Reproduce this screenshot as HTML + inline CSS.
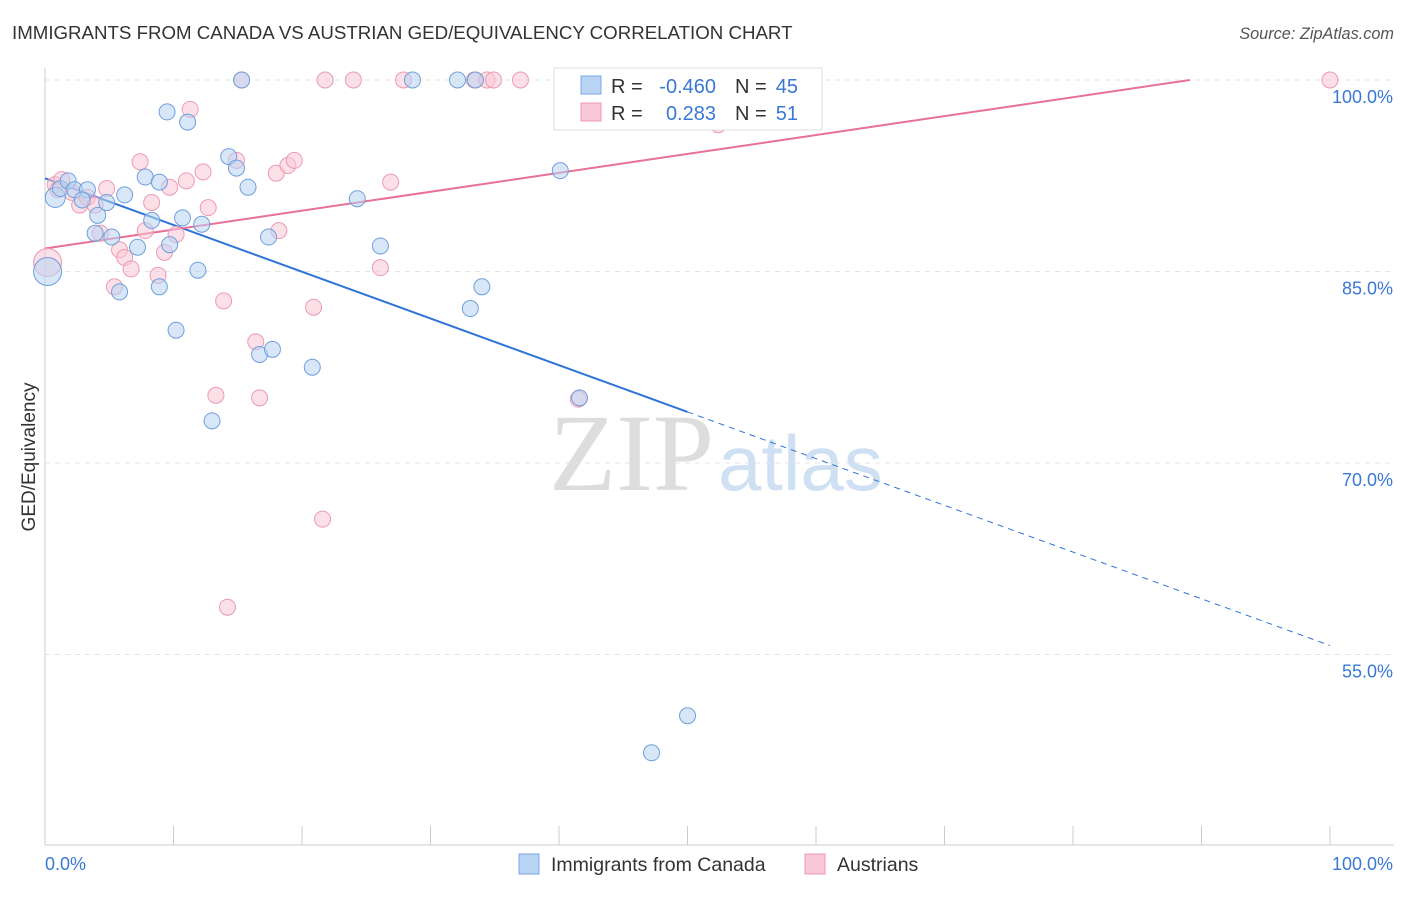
<!DOCTYPE html>
<html><head><meta charset="utf-8"><style>
body{margin:0;background:#fff;font-family:"Liberation Sans",sans-serif;}
</style></head><body>
<svg id="chart" width="1406" height="892" xmlns="http://www.w3.org/2000/svg">
<text x="12" y="39" font-size="18.7" fill="#333">IMMIGRANTS FROM CANADA VS AUSTRIAN GED/EQUIVALENCY CORRELATION CHART</text>
<text x="1394" y="39" font-size="16.3" fill="#555" text-anchor="end" font-style="italic">Source: ZipAtlas.com</text>
<text x="35" y="457" font-size="19" fill="#333" text-anchor="middle" transform="rotate(-90 35 457)">GED/Equivalency</text>
<text x="714" y="490" font-size="110" fill="#ddd" text-anchor="end" font-family="Liberation Serif">ZIP</text>
<text x="718" y="490" font-size="78" fill="#cfe0f3">atlas</text>
<g id="grid"></g><g id="axes"></g><g id="lines"></g><g id="pts"></g>
<rect x="554" y="68" width="268" height="62" fill="#fff" stroke="#ddd"/>
<rect x="581" y="76" width="20" height="18" fill="#b8d3f3" stroke="#7aa8e0"/>
<rect x="581" y="103" width="20" height="18" fill="#f9c7d6" stroke="#ec9ab4"/>
<g font-size="20">
<text x="611" y="93" fill="#333">R =</text>
<text x="716" y="93" fill="#3a78d4" text-anchor="end">-0.460</text>
<text x="735" y="93" fill="#333">N =</text>
<text x="798" y="93" fill="#3a78d4" text-anchor="end">45</text>
</g>
<g font-size="20">
<text x="611" y="120" fill="#333">R =</text>
<text x="716" y="120" fill="#3a78d4" text-anchor="end">0.283</text>
<text x="735" y="120" fill="#333">N =</text>
<text x="798" y="120" fill="#3a78d4" text-anchor="end">51</text>
</g>
<rect x="519" y="854" width="20" height="20" fill="#b8d3f3" stroke="#7aa8e0"/>
<text x="551" y="871" font-size="19.5" fill="#333">Immigrants from Canada</text>
<rect x="805" y="854" width="20" height="20" fill="#f9c7d6" stroke="#ec9ab4"/>
<text x="837" y="871" font-size="19.5" fill="#333">Austrians</text>
</svg>
<script>
const yTicks=[100,85,70,55];
const yTickLabels=["100.0%","85.0%","70.0%","55.0%"];
const xTickVals=[0,10,20,30,40,50,60,70,80,90,100];
const blueX=[0.8,0.2,1.2,1.8,2.3,3.3,2.9,4.1,4.8,3.9,5.2,5.8,6.2,7.2,7.8,8.3,8.9,8.9,9.7,9.5,10.2,10.7,11.1,11.9,12.2,13.0,14.3,14.9,15.3,15.8,16.7,17.4,17.7,20.8,24.3,26.1,28.6,32.1,33.1,33.5,34.0,40.1,41.6,50.0,47.2];
const blueY=[90.8,85.0,91.5,92.1,91.4,91.4,90.6,89.4,90.4,88.0,87.7,83.4,91.0,86.9,92.4,89.0,92.0,83.8,87.1,97.5,80.4,89.2,96.7,85.1,88.7,73.3,94.0,93.1,100,91.6,78.5,87.7,78.9,77.5,90.7,87.0,100,100,82.1,100,83.8,92.9,75.1,50.2,47.3];
const pinkX=[0.2,0.8,1.3,2.1,2.7,3.3,3.9,4.3,4.8,5.4,5.8,6.2,6.7,7.4,7.8,8.3,8.8,9.3,9.7,10.2,11.0,11.3,12.3,12.7,13.3,13.9,14.2,14.9,15.3,16.4,16.7,18.0,18.2,18.9,19.4,20.9,21.6,21.8,24.0,26.1,26.9,27.9,33.4,34.4,34.9,37.0,41.5,47.2,52.4,100,1.0];
const pinkY=[85.7,91.8,92.2,91.2,90.2,90.8,90.2,88.0,91.5,83.8,86.7,86.1,85.2,93.6,88.2,90.4,84.7,86.5,91.6,87.9,92.1,97.7,92.8,90.0,75.3,82.7,58.7,93.7,100,79.5,75.1,92.7,88.2,93.3,93.7,82.2,65.6,100,100,85.3,92.0,100,100,100,100,100,75.0,100,96.5,100,91.4];
const blueTrend=[92.3,74.0,55.7]; // at x=0,50,100
const pinkTrend=[86.8,100]; // at x=0, x=89.1
const pinkTrendEnd=89.1;

const NS="http://www.w3.org/2000/svg";
const sx=v=>45+v*12.85;
const sy=v=>80+(100-v)*12.766;
function mk(tag,attrs,parent){const e=document.createElementNS(NS,tag);for(const k in attrs)e.setAttribute(k,attrs[k]);document.getElementById(parent).appendChild(e);return e;}
yTicks.forEach((t,i)=>{
  const g=mk('line',{x1:45,x2:1394,y1:sy(t),y2:sy(t),stroke:'#e3e3e3','stroke-dasharray':'5,5'},'grid');
  
  
  const l=mk('text',{x:1393,y:sy(t)+23,'font-size':18,fill:'#3a78d4','text-anchor':'end'},'grid');
  l.textContent=yTickLabels[i];
  
  
});
const ax=mk('line',{x1:45,x2:45,y1:68,y2:845,stroke:'#ccc'},'axes');


const bx=mk('line',{x1:45,x2:1394,y1:845,y2:845,stroke:'#ccc'},'axes');


xTickVals.forEach(v=>{
  const t=mk('line',{x1:sx(v),x2:sx(v),y1:826,y2:845,stroke:'#ccc'},'axes');
  
  
});
const xl0=mk('text',{x:45,y:870,'font-size':18,fill:'#3a78d4'},'axes');xl0.textContent='0.0%';


const xl1=mk('text',{x:1393,y:870,'font-size':18,fill:'#3a78d4','text-anchor':'end'},'axes');xl1.textContent='100.0%';


function dot(x,y,fill,stroke,r,name){
  const c=mk('circle',{cx:sx(x),cy:sy(y),r:r,fill:fill,'fill-opacity':0.55,stroke:stroke,'stroke-width':1},'pts');
  
  
}
pinkX.forEach((x,i)=>dot(x,pinkY[i],'#f9c7d6','#ec9ab4',i===0?14:8,'austrians-point'));
blueX.forEach((x,i)=>dot(x,blueY[i],'#b8d3f3','#6f9fdc',i===1?14:(i===0?10:8),'canada-point'));
const b1=mk('line',{x1:sx(0),y1:sy(blueTrend[0]),x2:sx(50),y2:sy(blueTrend[1]),stroke:'#2f74d8','stroke-width':2},'lines');


const b2=mk('line',{x1:sx(50),y1:sy(blueTrend[1]),x2:sx(100),y2:sy(blueTrend[2]),stroke:'#2f74d8','stroke-width':1,'stroke-dasharray':'6,5'},'lines');


const p1=mk('line',{x1:sx(0),y1:sy(pinkTrend[0]),x2:sx(pinkTrendEnd),y2:sy(pinkTrend[1]),stroke:'#e8709a','stroke-width':2},'lines');


</script>
</body></html>
